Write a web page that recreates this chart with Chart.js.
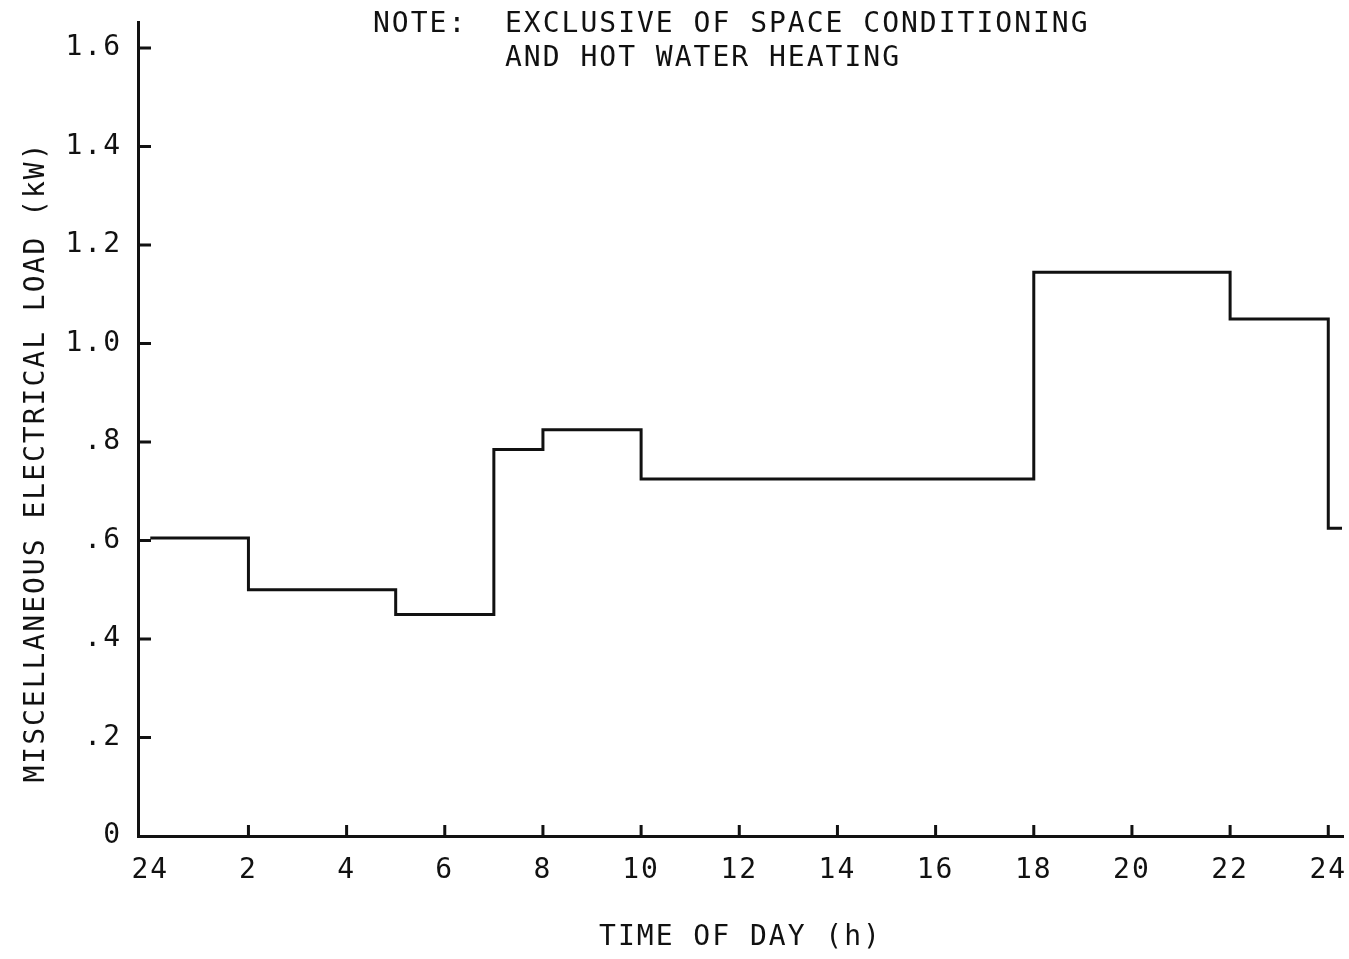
<!DOCTYPE html>
<html>
<head>
<meta charset="utf-8">
<script src="https://cdn.jsdelivr.net/npm/chart.js@4/dist/chart.umd.min.js"></script>
<style>
  body { margin: 0; background: #fff; }
  #wrap { width: 1349px; height: 959px; position: relative; }
</style>
</head>
<body>
<div id="wrap"><canvas id="loadChart"></canvas></div>
<script>
// step profile: each value holds from its hour until the next one
const hours = [0, 2, 5, 7, 8, 10, 18, 22, 24, 24.28];
const loadKW = [0.605, 0.50, 0.45, 0.785, 0.825, 0.725, 1.145, 1.05, 0.625, 0.625];

const xTickValues = [0, 2, 4, 6, 8, 10, 12, 14, 16, 18, 20, 22, 24];
const xTickLabels = ['24', '2', '4', '6', '8', '10', '12', '14', '16', '18', '20', '22', '24'];
const yTickValues = [0, 0.2, 0.4, 0.6, 0.8, 1.0, 1.2, 1.4, 1.6];
const yTickLabels = ['0', '.2', '.4', '.6', '.8', '1.0', '1.2', '1.4', '1.6'];

const noteLines = ['NOTE:  EXCLUSIVE OF SPACE CONDITIONING', '       AND HOT WATER HEATING'];
const yTitle = 'MISCELLANEOUS ELECTRICAL LOAD (kW)';
const xTitle = 'TIME OF DAY (h)';

const INK = '#111';
const FONT = '"DejaVu Sans Mono", monospace';

// letter spacing, inward tick marks, note and y title
const typewriter = {
  id: 'typewriter',
  beforeDraw(chart) {
    chart.ctx.letterSpacing = '2px';
  },
  afterDraw(chart) {
    const ctx = chart.ctx;
    const x = chart.scales.x, y = chart.scales.y;
    const area = chart.chartArea;
    ctx.save();
    ctx.strokeStyle = INK;
    ctx.lineWidth = 3;
    ctx.beginPath();
    yTickValues.forEach(v => {
      if (v === 0) return;
      const py = y.getPixelForValue(v);
      ctx.moveTo(area.left, py);
      ctx.lineTo(area.left + 13, py);
    });
    xTickValues.forEach(v => {
      if (v === 0) return;
      const px = x.getPixelForValue(v);
      ctx.moveTo(px, area.bottom);
      ctx.lineTo(px, area.bottom - 11);
    });
    ctx.stroke();

    ctx.fillStyle = INK;
    ctx.font = '28px ' + FONT;
    ctx.letterSpacing = '2px';
    ctx.textAlign = 'left';
    ctx.textBaseline = 'alphabetic';
    ctx.fillText(noteLines[0], 373, 32);
    ctx.fillText(noteLines[1], 373, 66);

    ctx.translate(37, 462);
    ctx.rotate(-Math.PI / 2);
    ctx.textAlign = 'center';
    ctx.textBaseline = 'middle';
    ctx.fillText(yTitle, 0, 0);
    ctx.restore();
  }
};

new Chart(document.getElementById('loadChart'), {
  type: 'line',
  data: {
    datasets: [{
      data: hours.map((h, i) => ({ x: h, y: loadKW[i] })),
      stepped: 'before',
      borderColor: INK,
      borderWidth: 3,
      pointRadius: 0,
      fill: false
    }]
  },
  options: {
    responsive: true,
    maintainAspectRatio: false,
    animation: false,
    layout: { padding: { top: 22, right: 6, bottom: 0, left: 0 } },
    plugins: {
      legend: { display: false },
      tooltip: { enabled: false }
    },
    scales: {
      x: {
        type: 'linear',
        min: -0.25,
        max: 24.3,
        afterFit: s => { s.height = 123; s.paddingLeft = 0; s.paddingRight = 0; },
        afterBuildTicks: s => { s.ticks = xTickValues.map(v => ({ value: v })); },
        grid: { display: false, drawTicks: false },
        border: { display: true, color: INK, width: 3 },
        ticks: {
          color: INK,
          padding: 18,
          maxRotation: 0,
          autoSkip: false,
          font: { family: FONT, size: 28 },
          callback: v => xTickLabels[xTickValues.indexOf(v)]
        },
        title: {
          display: true,
          text: xTitle,
          color: INK,
          font: { family: FONT, size: 28 },
          padding: { top: 0, bottom: 4 }
        }
      },
      y: {
        type: 'linear',
        min: 0,
        max: 1.653,
        afterFit: s => { s.width = 138; s.paddingTop = 0; s.paddingBottom = 0; },
        afterBuildTicks: s => { s.ticks = yTickValues.map(v => ({ value: v })); },
        grid: { display: false, drawTicks: false },
        border: { display: true, color: INK, width: 3 },
        ticks: {
          color: INK,
          padding: 16,
          autoSkip: false,
          font: { family: FONT, size: 28 },
          callback: v => yTickLabels[yTickValues.indexOf(v)]
        }
      }
    }
  },
  plugins: [typewriter]
});
</script>
</body>
</html>
